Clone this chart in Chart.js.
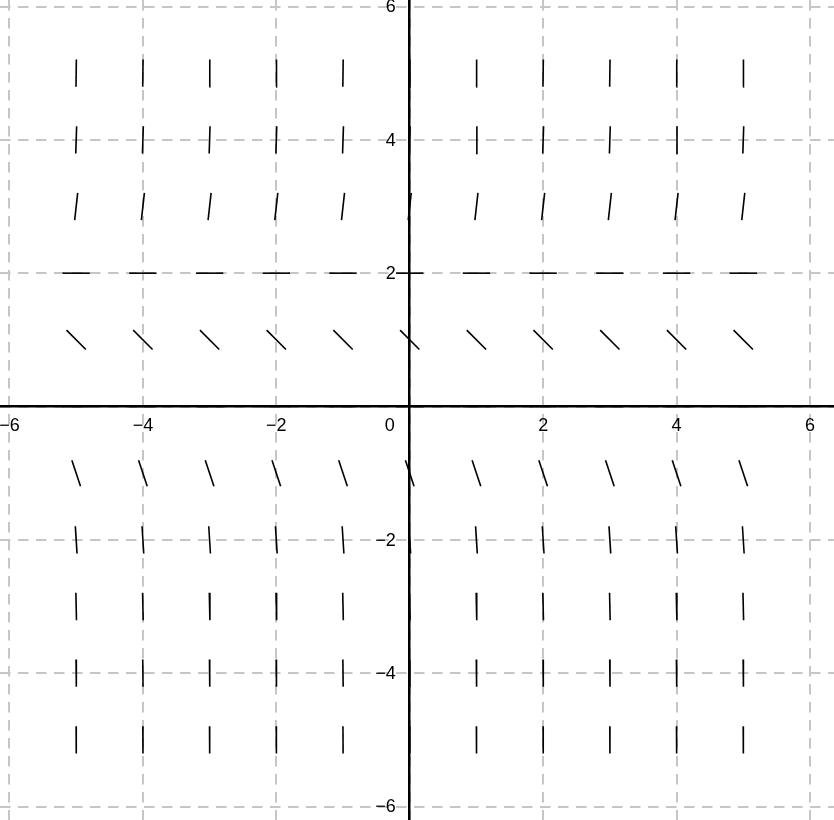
<!DOCTYPE html>
<html>
<head>
<meta charset="utf-8">
<script src="https://cdn.jsdelivr.net/npm/chart.js@4/dist/chart.umd.min.js"></script>
<style>
html,body{margin:0;padding:0;background:#fff;}
#wrap{width:834px;height:820px;}
</style>
</head>
<body>
<div id="wrap"><canvas id="c" width="834" height="820"></canvas></div>
<script>
// grid of sample points (columns and rows of the slope field)
const xs = [-5, -4, -3, -2, -1, 0, 1, 2, 3, 4, 5];
const ys = [5, 4, 3, 2, 1, 0, -1, -2, -3, -4, -5];
// slope read for each row (same for every column)
const slopes = [75, 32, 9, 0, -1, 0, -3, -16, -45, -96, -175];
// axis ticks and labels
const xTicks = [-6, -4, -2, 0, 2, 4, 6];
const xTickLabels = ['\u22126', '\u22124', '\u22122', '', '2', '4', '6'];
const yTicks = [-6, -4, -2, 0, 2, 4, 6];
const yTickLabels = ['\u22126', '\u22124', '\u22122', '', '2', '4', '6'];
const originLabel = '0';

const HALF = 0.205; // half-length of each slope segment in axis units
const FONT_FAMILY = "'Liberation Sans', Arial, Helvetica, sans-serif";
const FONT_SIZE = 18;

const datasets = [];
ys.forEach((y, r) => {
  const m = slopes[r];
  const dx = HALF / Math.sqrt(1 + m * m);
  const dy = m * dx;
  xs.forEach(x => {
    datasets.push({
      data: [{x: x - dx, y: y - dy}, {x: x + dx, y: y + dy}],
      showLine: true,
      borderColor: '#000',
      borderWidth: 1.6,
      pointRadius: 0,
      pointHoverRadius: 0,
      fill: false
    });
  });
});

// y tick labels and the origin label, placed left of the centred y axis
const labelPlugin = {
  id: 'axisLabels',
  afterDraw(chart) {
    const {ctx, scales: {x, y}} = chart;
    const ax = x.getPixelForValue(0);
    const ay = y.getPixelForValue(0);
    ctx.save();
    ctx.font = FONT_SIZE + 'px ' + FONT_FAMILY;
    ctx.fillStyle = '#000';
    ctx.textAlign = 'right';
    ctx.textBaseline = 'middle';
    yTicks.forEach((v, i) => {
      if (yTickLabels[i]) ctx.fillText(yTickLabels[i], ax - 14, y.getPixelForValue(v) + 1);
    });
    ctx.textBaseline = 'top';
    ctx.fillText(originLabel, ax - 15, ay + 11);
    ctx.restore();
  }
};

const noPad = s => { s.paddingLeft = 0; s.paddingRight = 0; s.paddingTop = 0; s.paddingBottom = 0; };

new Chart(document.getElementById('c'), {
  type: 'scatter',
  data: {datasets},
  plugins: [labelPlugin],
  options: {
    animation: false,
    responsive: false,
    events: [],
    layout: {padding: 0},
    plugins: {legend: {display: false}, tooltip: {enabled: false}},
    scales: {
      x: {
        type: 'linear',
        position: {y: 0},
        min: -6.142, max: 6.36,
        afterBuildTicks: s => { s.ticks = xTicks.map(v => ({value: v})); },
        afterFit: noPad,
        grid: {color: '#c6c6c6', lineWidth: 2, drawTicks: false},
        border: {display: true, color: '#000', width: 2.5, dash: [10.5, 7.5], z: 1},
        ticks: {
          callback: (v, i) => xTickLabels[i],
          font: {family: FONT_FAMILY, size: FONT_SIZE}, color: '#000', padding: 9,
          maxRotation: 0, minRotation: 0, autoSkip: false
        }
      },
      y: {
        type: 'linear',
        position: {x: 0},
        min: -6.2025, max: 6.0975,
        afterBuildTicks: s => { s.ticks = yTicks.map(v => ({value: v})); },
        afterFit: noPad,
        grid: {color: '#c6c6c6', lineWidth: 2, drawTicks: false},
        border: {display: true, color: '#000', width: 2.5, dash: [10.5, 7.5], z: 1},
        ticks: {display: false, autoSkip: false}
      }
    }
  }
});
</script>
</body>
</html>
